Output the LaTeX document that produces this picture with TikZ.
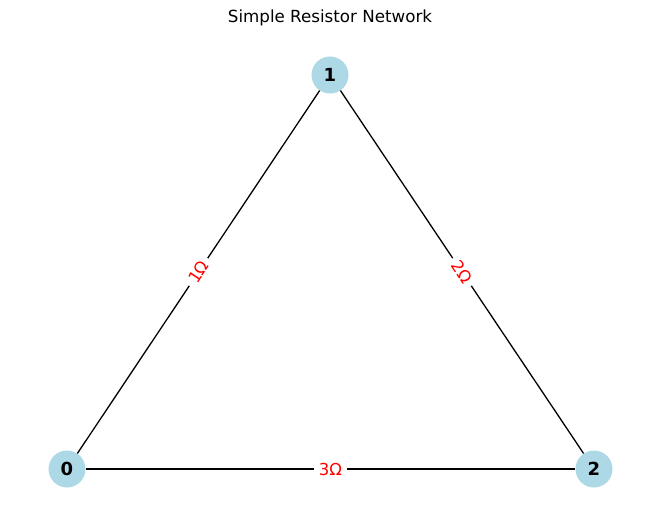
\documentclass[tikz,border=0pt]{standalone}
\usepackage{fontspec}
\setmainfont{DejaVu Sans}
\definecolor{lightblue}{RGB}{173, 216, 230}
\usetikzlibrary{positioning}

\begin{document}
\begin{tikzpicture}[x=1pt, y=-1pt,
  every node/.style={inner sep=0pt},
  resnode/.style={circle, minimum size=37pt, fill=lightblue, font=\fontsize{18}{20}\selectfont\bfseries},
  reswire/.style={line width=1.3pt, color=black},
  reslabel/.style={sloped, fill=white, text=red, inner xsep=5pt, inner ysep=2pt, font=\fontsize{16.5}{18}\selectfont}]
\useasboundingbox (0, 0) rectangle (660, 522);
\node (title) at (330.0, 18.0) {\fontsize{16.7}{20}\selectfont Simple Resistor Network};
\node (0) [resnode] at (67.0, 469.0) {0};
\node (1) [resnode] at (330.0, 75.0) {1};
\node (2) [resnode] at (594.0, 469.0) {2};
\draw [reswire] (0) to node [reslabel] {1Ω} (1);
\draw [reswire] (1) to node [reslabel] {2Ω} (2);
\draw [reswire] (0) to node [reslabel] {3Ω} (2);
\end{tikzpicture}
\end{document}
